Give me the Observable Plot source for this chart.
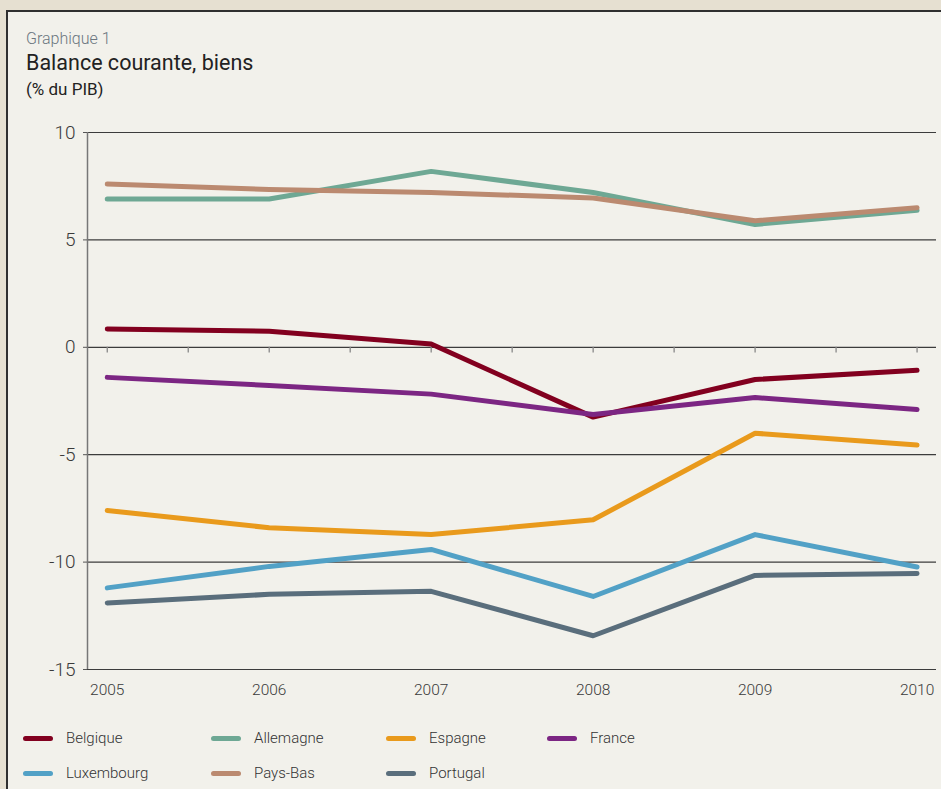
<!DOCTYPE html>
<html>
<head>
<meta charset="utf-8">
<script src="https://cdn.jsdelivr.net/npm/d3@7"></script>
<script src="https://cdn.jsdelivr.net/npm/@observablehq/plot@0.6"></script>
<style>
  html, body { margin: 0; padding: 0; width: 941px; height: 789px; overflow: hidden; background: #e6e0d1; }
  body { position: relative; font-family: Roboto, "DejaVu Sans Condensed", sans-serif; font-weight: 300; }
  #panel { position: absolute; left: 6px; top: 10px; width: 960px; height: 800px; border: 2px solid #2f2f2f; background: #f2f1eb; }
  .t1 { position: absolute; left: 26px; top: 29px; font-size: 16px; color: #6b767f; white-space: nowrap; }
  .t2 { position: absolute; left: 26px; top: 50px; font-size: 21.5px; color: #222; white-space: nowrap; font-weight: 400; }
  .t3 { position: absolute; left: 26px; top: 79px; font-size: 17px; color: #222; white-space: nowrap; font-weight: 400; }
  #chart { position: absolute; left: 0; top: 120px; }
  #legend { position: absolute; left: 0; top: 0; }
  .item { position: absolute; display: flex; align-items: center; font-size: 15px; color: #333; white-space: nowrap; }
  .sw { width: 30px; height: 5px; border-radius: 3px; margin-right: 13px; flex: none; }
</style>
</head>
<body>
<div id="panel"></div>
<div class="t1">Graphique 1</div>
<div class="t2">Balance courante, biens</div>
<div class="t3">(% du PIB)</div>
<div id="chart"></div>
<div id="legend"></div>
<script>
const years = [2005, 2006, 2007, 2008, 2009, 2010];
const countries = ["Belgique", "Allemagne", "Espagne", "France", "Luxembourg", "Pays-Bas", "Portugal"];
const colors = ["#82001f", "#6ea894", "#e99a1c", "#7c2683", "#52a1c6", "#bb8a70", "#5a6e7c"];
const belgique   = [0.85, 0.75, 0.15, -3.25, -1.5, -1.07];
const allemagne  = [6.9, 6.9, 8.19, 7.21, 5.72, 6.38];
const espagne    = [-7.6, -8.4, -8.72, -8.03, -4.0, -4.55];
const france     = [-1.4, -1.78, -2.18, -3.13, -2.34, -2.9];
const luxembourg = [-11.2, -10.2, -9.41, -11.6, -8.72, -10.23];
const paysBas    = [7.6, 7.35, 7.21, 6.95, 5.89, 6.5];
const portugal   = [-11.9, -11.5, -11.36, -13.43, -10.62, -10.53];
const yTicks = [10, 5, 0, -5, -10, -15];
const halfYearTicks = [2005, 2005.5, 2006, 2006.5, 2007, 2007.5, 2008, 2008.5, 2009, 2009.5, 2010];

const seriesValues = [belgique, allemagne, espagne, france, luxembourg, paysBas, portugal];
const rows = [];
countries.forEach((c, i) => years.forEach((y, j) => rows.push({country: c, year: y, value: seriesValues[i][j]})));
const drawOrder = ["Belgique", "Allemagne", "Espagne", "Luxembourg", "Portugal", "France", "Pays-Bas"];
const xDomain = [2004.878, 2010.12];

const fontFam = 'Roboto, "DejaVu Sans Condensed", sans-serif';
const plot = Plot.plot({
  width: 941,
  height: 590,
  marginLeft: 87,
  marginRight: 5,
  marginTop: 12,
  marginBottom: 41,
  style: {background: "transparent", fontFamily: fontFam, fontSize: "17px", color: "#3a3a3a", fontWeight: 300},
  x: {domain: xDomain, label: null},
  y: {domain: [-15, 10], label: null},
  color: {domain: countries, range: colors},
  marks: [
    Plot.ruleY(yTicks, {stroke: "#3c3c3c", strokeWidth: 1.2, strokeOpacity: 1}),
    Plot.ruleX([xDomain[0]], {y1: -15, y2: 10, stroke: "#777", strokeWidth: 1.5}),
    Plot.ruleX(halfYearTicks, {y1: 0, y2: -0.27, stroke: "#888", strokeWidth: 1.3}),
    Plot.axisY({ticks: yTicks, tickSize: 4, tickPadding: 8, tickFormat: d => String(d), fontSize: 19, stroke: "#555"}),
    Plot.axisX({ticks: years, tickSize: 0, tickPadding: 14, tickFormat: d => String(d), fontSize: 15.5}),
    ...drawOrder.map(c => Plot.line(rows.filter(r => r.country === c), {
      x: "year", y: "value", stroke: colors[countries.indexOf(c)], strokeWidth: 5, strokeLinecap: "round", strokeLinejoin: "round"
    }))
  ]
});
document.getElementById("chart").appendChild(plot);

const legend = document.getElementById("legend");
const legendPos = [[23, 739], [211, 739], [386, 739], [547, 739], [23, 774], [211, 774], [386, 774]];
countries.forEach((c, i) => {
  const d = document.createElement("div");
  d.className = "item";
  d.style.left = legendPos[i][0] + "px";
  d.style.top = (legendPos[i][1] - 10) + "px";
  d.innerHTML = `<span class="sw" style="background:${colors[i]}"></span><span>${c}</span>`;
  legend.appendChild(d);
});
</script>
</body>
</html>
